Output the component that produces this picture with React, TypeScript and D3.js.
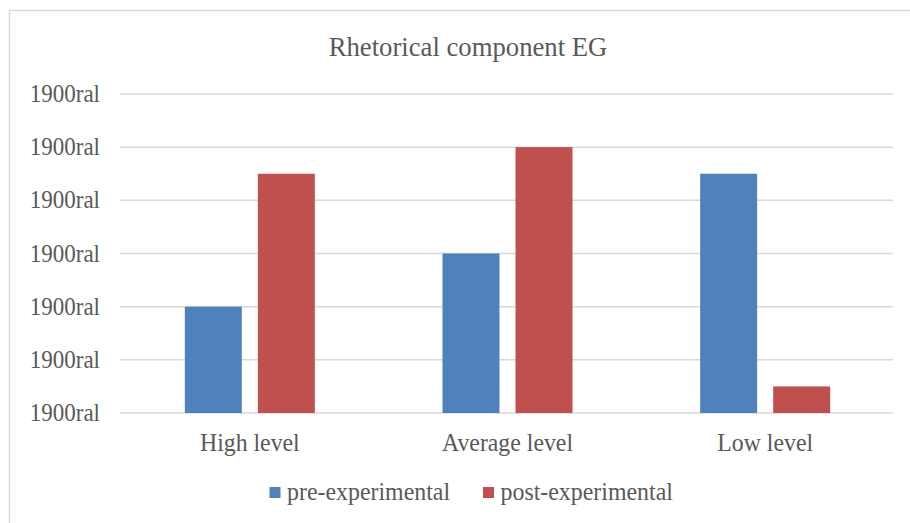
import React, { useEffect, useRef } from 'react';
import * as d3 from 'd3';

const categories = ['High level', 'Average level', 'Low level'];
const seriesNames = ['pre-experimental', 'post-experimental'];
const preValues = [2, 3, 4.5];
const postValues = [4.5, 5, 0.5];
const yTicks = [0, 1, 2, 3, 4, 5, 6];
const tickLabel = '1900ral';
const title = 'Rhetorical component EG';

const colors = ['#4F81BD', '#C0504D'];
const textColor = '#595959';
const font = '"Liberation Serif", "Times New Roman", serif';
const stretch = 1.06; // source text is a touch taller than wide

export default function App() {
  const svgRef = useRef<SVGSVGElement>(null);

  useEffect(() => {
    if (!svgRef.current) return;
    const W = 910;
    const H = 523;
    const svg = d3.select(svgRef.current);
    svg.selectAll('*').remove();

    const place = (x: number, y: number) => `translate(${x},${y}) scale(1,${stretch})`;

    // chart border (only top and left visible in the crop)
    svg.append('rect')
      .attr('x', 9.5).attr('y', 10.5)
      .attr('width', W + 20).attr('height', H + 20)
      .attr('fill', 'none')
      .attr('stroke', '#D9D9D9')
      .attr('stroke-width', 1.5);

    const left = 120;
    const right = 893;
    const top = 94;
    const bottom = 413;

    const x0 = d3.scaleBand().domain(categories).range([left, right]).padding(0);
    const groupW = 130;
    const x1 = d3.scaleBand().domain(seriesNames).range([0, groupW]).paddingInner(0.22);
    const y = d3.scaleLinear().domain([0, 6]).range([bottom, top]);

    // title
    svg.append('text')
      .attr('transform', place(468, 56))
      .attr('text-anchor', 'middle')
      .attr('font-family', font)
      .attr('font-size', 26.7)
      .attr('fill', textColor)
      .text(title);

    // gridlines
    svg.append('g')
      .selectAll('line')
      .data(yTicks)
      .enter()
      .append('line')
      .attr('x1', left).attr('x2', right)
      .attr('y1', d => y(d)).attr('y2', d => y(d))
      .attr('stroke', '#D9D9D9')
      .attr('stroke-width', 1.5);

    // y tick labels
    svg.append('g')
      .selectAll('text')
      .data(yTicks)
      .enter()
      .append('text')
      .attr('transform', d => place(100, y(d) + 8))
      .attr('text-anchor', 'end')
      .attr('font-family', font)
      .attr('font-size', 23)
      .attr('fill', textColor)
      .text(tickLabel);

    // bars
    const rows = categories.map((c, i) => ({ cat: c, vals: [preValues[i], postValues[i]] }));
    const groups = svg.append('g')
      .selectAll('g')
      .data(rows)
      .enter()
      .append('g')
      .attr('transform', d => `translate(${(x0(d.cat) || 0) + (x0.bandwidth() - groupW) / 2 + 1},0)`);

    groups.selectAll('rect')
      .data(d => d.vals.map((v, j) => ({ key: seriesNames[j], v, j })))
      .enter()
      .append('rect')
      .attr('x', d => x1(d.key) || 0)
      .attr('width', x1.bandwidth())
      .attr('y', d => y(d.v))
      .attr('height', d => y(0) - y(d.v))
      .attr('fill', d => colors[d.j]);

    // category labels
    svg.append('g')
      .selectAll('text')
      .data(categories)
      .enter()
      .append('text')
      .attr('transform', d => place((x0(d) || 0) + x0.bandwidth() / 2 + 1, 451))
      .attr('text-anchor', 'middle')
      .attr('font-family', font)
      .attr('font-size', 23.8)
      .attr('fill', textColor)
      .text(d => d);

    // legend
    const legendX = [269.5, 483];
    const legend = svg.append('g');
    seriesNames.forEach((name, i) => {
      legend.append('rect')
        .attr('x', legendX[i]).attr('y', 487)
        .attr('width', 11).attr('height', 11)
        .attr('fill', colors[i]);
      legend.append('text')
        .attr('transform', place(legendX[i] + 17.5, 500))
        .attr('font-family', font)
        .attr('font-size', 23.9)
        .attr('fill', textColor)
        .text(name);
    });
  }, []);

  return (
    <div style={{ position: 'fixed', left: 0, top: 0, width: 910, height: 523, background: '#fff' }}>
      <svg ref={svgRef} width={910} height={523} style={{ display: 'block' }} />
    </div>
  );
}
